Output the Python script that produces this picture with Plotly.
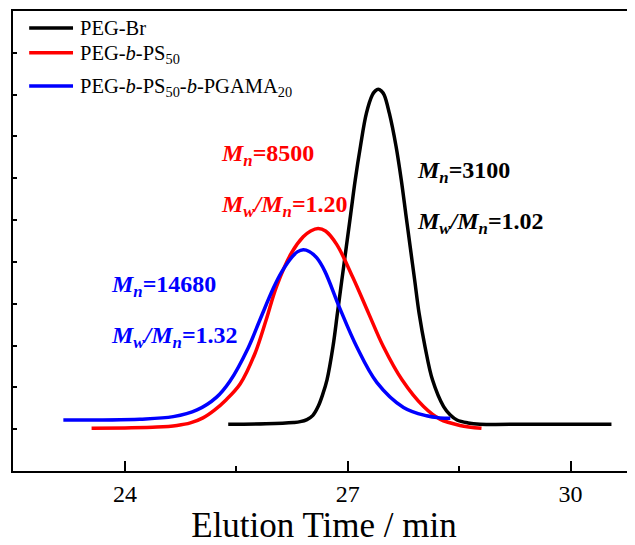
import plotly.graph_objects as go

# Elution time (min) and detector intensity (a.u.)
peg_br_t = [25.39, 25.90, 26.27, 26.36, 26.45, 26.53, 26.60, 26.66, 26.72, 26.80, 26.86, 26.92,
            26.98, 27.04, 27.10, 27.17, 27.25, 27.33, 27.37, 27.41, 27.45, 27.49, 27.56, 27.65,
            27.72, 27.78, 27.84, 27.90, 27.96, 28.04, 28.14, 28.29, 28.38, 28.47, 28.62, 28.78,
            29.50, 30.55]
peg_br_i = [1.12, 1.13, 1.16, 1.18, 1.23, 1.33, 1.54, 1.82, 2.18, 2.97, 3.77, 4.57,
            5.36, 6.16, 6.96, 7.76, 8.55, 8.99, 9.09, 9.13, 9.09, 8.99, 8.55, 7.76,
            6.96, 6.16, 5.36, 4.57, 3.77, 2.97, 2.18, 1.54, 1.34, 1.22, 1.15, 1.12,
            1.12, 1.12]

peg_ps_t = [23.55, 24.00, 24.43, 24.70, 24.88, 25.05, 25.20, 25.36, 25.55, 25.75, 25.90, 26.04,
            26.24, 26.40, 26.50, 26.60, 26.70, 26.85, 27.07, 27.28, 27.48, 27.73, 28.02, 28.24,
            28.51, 28.80]
peg_ps_i = [1.02, 1.03, 1.05, 1.09, 1.15, 1.27, 1.45, 1.70, 2.08, 2.81, 3.61, 4.41,
            5.21, 5.60, 5.74, 5.80, 5.74, 5.42, 4.62, 3.77, 2.97, 2.18, 1.54, 1.24,
            1.09, 1.02]

peg_ps_pgama_t = [23.17, 24.20, 24.65, 24.97, 25.23, 25.41, 25.66, 25.82, 26.00, 26.11, 26.25,
                  26.32, 26.40, 26.48, 26.58, 26.69, 26.89, 27.12, 27.39, 27.75, 28.06, 28.24, 28.38]
peg_ps_pgama_i = [1.22, 1.24, 1.30, 1.46, 1.76, 2.14, 2.95, 3.63, 4.38, 4.76, 5.12,
                  5.24, 5.29, 5.25, 5.10, 4.78, 3.90, 2.97, 2.12, 1.52, 1.32, 1.27, 1.26]

series_names = ["PEG-Br",
                "PEG-<i>b</i>-PS<sub>50</sub>",
                "PEG-<i>b</i>-PS<sub>50</sub>-<i>b</i>-PGAMA<sub>20</sub>"]
series_colors = ["#000000", "#ff0000", "#0000ff"]

x_tick_vals = [24, 27, 30]

# annotations: (text, x, y, colour)
mn_labels = [
    ("<b><i>M</i><sub><i>n</i></sub>=8500</b>", 25.26, 7.55, "#ff0000"),
    ("<b><i>M</i><sub><i>w</i></sub><i>/M</i><sub><i>n</i></sub>=1.20</b>", 25.26, 6.33, "#ff0000"),
    ("<b><i>M</i><sub><i>n</i></sub>=3100</b>", 27.90, 7.15, "#000000"),
    ("<b><i>M</i><sub><i>w</i></sub><i>/M</i><sub><i>n</i></sub>=1.02</b>", 27.90, 5.93, "#000000"),
    ("<b><i>M</i><sub><i>n</i></sub>=14680</b>", 23.78, 4.43, "#0000ff"),
    ("<b><i>M</i><sub><i>w</i></sub><i>/M</i><sub><i>n</i></sub>=1.32</b>", 23.78, 3.20, "#0000ff"),
]

# legend layout (paper coordinates)
legend_rows_y = [0.963, 0.909, 0.837]
legend_line_x = [0.026, 0.0965]
legend_text_x = 0.1045

FONT = "Liberation Serif"

fig = go.Figure()
for t, i, name, col in zip([peg_br_t, peg_ps_t, peg_ps_pgama_t],
                           [peg_br_i, peg_ps_i, peg_ps_pgama_i],
                           series_names, series_colors):
    fig.add_trace(go.Scatter(x=t, y=i, mode="lines", name=name, showlegend=False,
                             line=dict(color=col, width=3.5, shape="spline", smoothing=1.0)))

# hand-built legend so the sample lines match the reference length
for name, col, ly in zip(series_names, series_colors, legend_rows_y):
    fig.add_shape(type="line", xref="paper", yref="paper",
                  x0=legend_line_x[0], x1=legend_line_x[1], y0=ly, y1=ly,
                  line=dict(color=col, width=3.5))
    has_sub = "<sub>" in name
    fig.add_annotation(x=legend_text_x, y=ly, xref="paper", yref="paper", text=name,
                       showarrow=False, xanchor="left", yanchor="middle",
                       yshift=-2 if has_sub else 0,
                       font=dict(family=FONT, size=20.5, color="black"))

for text, x, y, col in mn_labels:
    fig.add_annotation(x=x, y=y, xref="x", yref="y", text=text, showarrow=False,
                       xanchor="left", yanchor="middle",
                       font=dict(family=FONT, size=24, color=col))

fig.update_layout(
    width=627, height=537,
    margin=dict(l=5, r=0, t=3, b=74),
    paper_bgcolor="white", plot_bgcolor="white",
    font=dict(family=FONT, color="black"),
    showlegend=False,
    xaxis=dict(range=[22.492, 30.867], tickvals=x_tick_vals,
               ticks="inside", ticklen=10, tickwidth=2, tickcolor="black",
               minor=dict(dtick=1.5, tick0=24, ticks="inside", ticklen=5, tickwidth=2, tickcolor="black"),
               showline=True, linewidth=2, linecolor="black", mirror=True,
               showgrid=False, zeroline=False,
               tickfont=dict(family=FONT, size=24, color="black"),
               ticklabelstandoff=0,
               title=dict(text="Elution Time / min", standoff=10,
                          font=dict(family=FONT, size=35, color="black"))),
    yaxis=dict(range=[0, 11], dtick=1, tick0=0,
               ticks="inside", ticklen=4, tickwidth=1.5, tickcolor="black",
               showticklabels=False,
               showline=True, linewidth=2, linecolor="black", mirror=False,
               showgrid=False, zeroline=False),
)

fig.write_html("out.html")
